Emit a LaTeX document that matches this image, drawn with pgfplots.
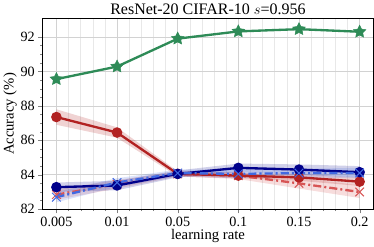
\documentclass[border=0pt]{standalone}
\usepackage{pgfplots}
\pgfplotsset{compat=1.18}
\usepackage{fontspec}
\setmainfont{Liberation Serif}
\definecolor{cgreen}{RGB}{46,139,87}
\definecolor{cred}{RGB}{178,34,34}
\definecolor{cnavy}{RGB}{0,0,139}
\definecolor{clred}{RGB}{215,85,85}
\definecolor{cblue}{RGB}{65,105,225}
\pgfdeclareplotmark{fstar}{%
  \pgfpathmoveto{\pgfqpointpolar{90}{\pgfplotmarksize}}%
  \pgfpathlineto{\pgfqpointpolar{126}{0.5\pgfplotmarksize}}%
  \pgfpathlineto{\pgfqpointpolar{162}{\pgfplotmarksize}}%
  \pgfpathlineto{\pgfqpointpolar{198}{0.5\pgfplotmarksize}}%
  \pgfpathlineto{\pgfqpointpolar{234}{\pgfplotmarksize}}%
  \pgfpathlineto{\pgfqpointpolar{270}{0.5\pgfplotmarksize}}%
  \pgfpathlineto{\pgfqpointpolar{306}{\pgfplotmarksize}}%
  \pgfpathlineto{\pgfqpointpolar{342}{0.5\pgfplotmarksize}}%
  \pgfpathlineto{\pgfqpointpolar{18}{\pgfplotmarksize}}%
  \pgfpathlineto{\pgfqpointpolar{54}{0.5\pgfplotmarksize}}%
  \pgfpathclose
  \pgfusepathqfillstroke
}
\begin{document}
\begin{tikzpicture}
\begin{axis}[
  scale only axis, width=327pt, height=188pt,
  xmin=-0.23, xmax=5.23, ymin=82, ymax=93.05,
  xtick={0,1,2,3,4,5},
  xticklabels={0.005,0.01,0.05,0.1,0.15,0.2},
  ytick={82,84,86,88,90,92},
  minor x tick num=4, minor y tick num=3,
  tick align=outside, tick pos=left,
  major tick length=4pt, minor tick length=2pt,
  grid=both,
  major grid style={gray!35, line width=0.6pt},
  minor x grid style={gray!18, line width=0.5pt},
  minor y grid style={draw=none},
  xlabel={learning rate}, ylabel={Accuracy (\%)},
  title={ResNet-20 CIFAR-10 $s$=0.956},
  title style={font=\fontsize{15.8}{17}\selectfont, yshift=-5pt},
  label style={font=\fontsize{14.5}{15}\selectfont},
  tick label style={font=\fontsize{14}{15}\selectfont},
  /pgf/number format/assume math mode=true,
  xlabel style={yshift=4pt}, ylabel style={yshift=-3pt},
  axis line style={line width=0.8pt},
  clip=false,
]
% bands
\addplot[draw=none, fill=cred, fill opacity=0.2] coordinates {(0,87.8)(1,86.75)(2,84.2)(3,84.1)(4,84.05)(5,83.85)(5,83.35)(4,83.65)(3,83.8)(2,83.9)(1,86.15)(0,86.9)} -- cycle;
\addplot[draw=none, fill=clred, fill opacity=0.2] coordinates {(0,83.15)(1,83.7)(2,84.2)(3,84.15)(4,83.8)(5,83.4)(5,82.65)(4,83.2)(3,83.75)(2,83.9)(1,83.2)(0,82.55)} -- cycle;
\addplot[draw=none, fill=cnavy, fill opacity=0.18] coordinates {(0,83.55)(1,83.65)(2,84.25)(3,84.65)(4,84.6)(5,84.5)(5,83.85)(4,84.0)(3,84.15)(2,83.85)(1,83.1)(0,83.0)} -- cycle;
\addplot[draw=none, fill=cblue, fill opacity=0.18] coordinates {(0,83.0)(1,83.8)(2,84.3)(3,84.3)(4,84.35)(5,84.4)(5,83.8)(4,83.85)(3,83.8)(2,83.9)(1,83.3)(0,82.4)} -- cycle;
% lines
\addplot[cgreen, line width=2.3pt, mark=fstar, mark size=6.5pt, mark options={fill=cgreen, line width=0.5pt}] coordinates {(0,89.55)(1,90.28)(2,91.9)(3,92.32)(4,92.45)(5,92.3)};
\addplot[clred, line width=2.3pt, dash pattern=on 8pt off 3pt on 2pt off 3pt, mark=x, mark size=6pt, mark options={solid, line width=1pt}] coordinates {(0,82.85)(1,83.45)(2,84.05)(3,83.95)(4,83.5)(5,83.0)};
\addplot[cred, line width=2.3pt, mark=*, mark size=4pt] coordinates {(0,87.35)(1,86.45)(2,84.05)(3,83.95)(4,83.85)(5,83.6)};
\addplot[cnavy, line width=2.3pt, mark=*, mark size=4pt] coordinates {(0,83.28)(1,83.38)(2,84.05)(3,84.4)(4,84.3)(5,84.15)};
\addplot[cblue, line width=2.3pt, dash pattern=on 8pt off 3pt on 2pt off 3pt, mark=x, mark size=6pt, mark options={solid, line width=1pt}] coordinates {(0,82.7)(1,83.55)(2,84.1)(3,84.05)(4,84.1)(5,84.1)};
\end{axis}
\end{tikzpicture}
\end{document}
